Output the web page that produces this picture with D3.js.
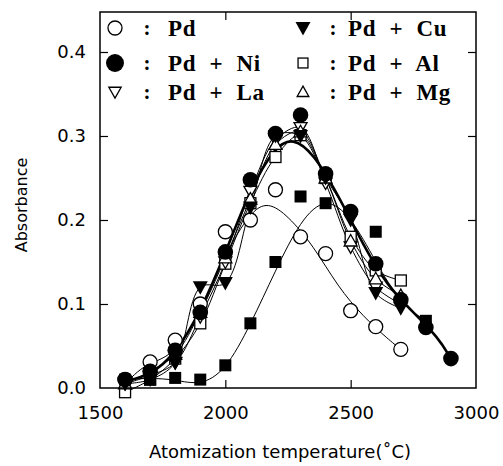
<!DOCTYPE html>
<html><head><meta charset="utf-8">
<script src="https://cdn.jsdelivr.net/npm/d3@7"></script>
<style>html,body{margin:0;padding:0;background:#fff;}</style>
</head><body>
<svg id="c" width="503" height="466"></svg>
<script>
// ---- data ----
const xTicks = [1500,2000,2500,3000];
const yTicks = [0.0,0.1,0.2,0.3,0.4];

const pdT   = [1600,1700,1800,1900,2000,2100,2200,2300,2400,2500,2600,2700];
const pdV   = [0.010,0.031,0.057,0.100,0.186,0.200,0.236,0.180,0.160,0.092,0.073,0.046];
const pdFitT = [1600,1650,1700,1800,1900,2000,2100,2170,2250,2350,2450,2550,2650,2700];
const pdFitV = [0.005,0.020,0.030,0.040,0.090,0.160,0.210,0.222,0.205,0.170,0.120,0.085,0.058,0.046];

const niT = [1600,1700,1800,1900,2000,2100,2200,2300,2400,2500,2600,2700,2800,2900];
const niV = [0.010,0.020,0.045,0.090,0.162,0.248,0.303,0.325,0.255,0.210,0.148,0.105,0.072,0.035];
const niFitT = [1600,1700,1800,1900,2000,2100,2200,2270,2350,2450,2550,2650,2750,2850,2900];
const niFitV = [0.008,0.015,0.040,0.090,0.160,0.238,0.288,0.298,0.280,0.230,0.170,0.120,0.090,0.060,0.035];

const laT = [1600,1700,1800,1900,2000,2100,2200,2300,2400,2500,2600,2700];
const laV = [0.005,0.015,0.030,0.085,0.150,0.234,0.295,0.310,0.244,0.168,0.120,0.100];

const cuT = [1600,1700,1800,1900,2000,2100,2200,2300,2400,2500,2600,2700];
const cuV = [0.005,0.010,0.030,0.120,0.125,0.215,0.300,0.300,0.250,0.200,0.113,0.095];

const alT = [1600,1700,1800,1900,2000,2100,2200,2300,2400,2500,2600,2700];
const alV = [-0.005,0.010,0.035,0.077,0.148,0.220,0.275,0.301,0.250,0.180,0.140,0.128];

const mgT = [1600,1700,1800,1900,2000,2100,2200,2300,2400,2500,2600,2700];
const mgV = [0.005,0.020,0.040,0.090,0.155,0.225,0.290,0.305,0.250,0.175,0.130,0.110];

const sqT = [1600,1700,1800,1900,2000,2100,2200,2300,2400,2600,2800];
const sqV = [0.010,0.010,0.012,0.010,0.027,0.077,0.150,0.228,0.220,0.186,0.080];
const sqFitT = [1600,1700,1800,1900,2000,2100,2200,2300,2400,2500,2600,2700,2800];
const sqFitV = [0.010,0.012,0.010,0.003,0.020,0.075,0.140,0.200,0.228,0.205,0.150,0.100,0.080];

const legendLabels = ["Pd","Pd + Ni","Pd + La","Pd + Cu","Pd + Al","Pd + Mg"];

// ---- drawing ----
const svg = d3.select("#c");
const x = d3.scaleLinear().domain([1500,3000]).range([100,476]);
const y = d3.scaleLinear().domain([0,0.4]).range([388,52]);
const yTop = 12;

const zip = (t,v)=>t.map((d,i)=>[d,v[i]]);
const line = d3.line().x(d=>x(d[0])).y(d=>y(d[1]));

function drawLine(data, w, curve){
  svg.append("path").datum(data)
    .attr("fill","none").attr("stroke","#000").attr("stroke-width",w)
    .attr("d", line.curve(curve)(data));
}
const cr = d3.curveCatmullRom.alpha(0.5);
drawLine(zip(pdFitT,pdFitV),1,d3.curveBasis);
drawLine(zip(sqFitT,sqFitV),1,d3.curveBasis);
drawLine(zip(laT,laV),1,cr);
drawLine(zip(cuT,cuV),1,cr);
drawLine(zip(alT,alV),1,cr);
drawLine(zip(mgT,mgV),1,cr);
drawLine(zip(niFitT,niFitV),2.6,d3.curveBasis);

// symbols
const sym = {
  openCircle: (g,cx,cy,s=1)=>g.append("circle").attr("cx",cx).attr("cy",cy).attr("r",7*s).attr("fill","#fff").attr("stroke","#000").attr("stroke-width",1.3),
  fillCircle: (g,cx,cy,s=1)=>g.append("circle").attr("cx",cx).attr("cy",cy).attr("r",7.8*s).attr("fill","#000"),
  openSquare: (g,cx,cy,s=1)=>g.append("rect").attr("x",cx-5.5*s).attr("y",cy-5.5*s).attr("width",11*s).attr("height",11*s).attr("fill","#fff").attr("stroke","#000").attr("stroke-width",1.3),
  fillSquare: (g,cx,cy,s=1)=>g.append("rect").attr("x",cx-6*s).attr("y",cy-6*s).attr("width",12*s).attr("height",12*s).attr("fill","#000"),
  openDown: (g,cx,cy,s=1)=>g.append("path").attr("d",`M${cx-6.5*s},${cy-5*s}L${cx+6.5*s},${cy-5*s}L${cx},${cy+6.5*s}Z`).attr("fill","#fff").attr("stroke","#000").attr("stroke-width",1.3),
  fillDown: (g,cx,cy,s=1)=>g.append("path").attr("d",`M${cx-7.5*s},${cy-6*s}L${cx+7.5*s},${cy-6*s}L${cx},${cy+7.5*s}Z`).attr("fill","#000"),
  openUp: (g,cx,cy,s=1)=>g.append("path").attr("d",`M${cx-6.5*s},${cy+5*s}L${cx+6.5*s},${cy+5*s}L${cx},${cy-6.5*s}Z`).attr("fill","#fff").attr("stroke","#000").attr("stroke-width",1.3)
};
function drawPts(t,v,s){
  const g = svg.append("g");
  t.forEach((d,i)=>s(g,x(d),y(v[i])));
}
drawPts(pdT,pdV,sym.openCircle);
drawPts(alT,alV,sym.openSquare);
drawPts(laT,laV,sym.openDown);
drawPts(mgT,mgV,sym.openUp);
drawPts(sqT,sqV,sym.fillSquare);
drawPts(cuT,cuV,sym.fillDown);
drawPts(niT,niV,sym.fillCircle);

// frame
svg.append("rect").attr("x",x(1500)).attr("y",yTop).attr("width",x(3000)-x(1500)).attr("height",y(0)-yTop)
  .attr("fill","none").attr("stroke","#000").attr("stroke-width",1.5);

// axes with inward ticks
const axL = d3.axisLeft(y).tickValues(yTicks).tickSize(-8).tickPadding(14).tickFormat(d3.format(".1f"));
const axR = d3.axisRight(y).tickValues(yTicks.slice(1)).tickSize(-8).tickFormat("");
const axB = d3.axisBottom(x).tickValues(xTicks).tickSize(-8).tickPadding(18).tickFormat(d3.format("d"));
const axT = d3.axisTop(x).tickValues([2000,2500]).tickSize(-8).tickFormat("");
function styleAx(g){ g.select(".domain").remove(); g.selectAll("line").attr("stroke","#000").attr("stroke-width",1.2);
  g.selectAll("text").attr("fill","#000").style("font-family","'DejaVu Sans',sans-serif").style("font-size","18px"); }
svg.append("g").attr("transform",`translate(${x(1500)},0)`).call(axL).call(styleAx);
svg.append("g").attr("transform",`translate(${x(3000)},0)`).call(axR).call(styleAx);
svg.append("g").attr("transform",`translate(0,${y(0)})`).call(axB).call(styleAx);
svg.append("g").attr("transform",`translate(0,${yTop})`).call(axT).call(styleAx);
svg.selectAll("g.tick").filter(d=>d===0||d===1500||d===3000).select("line").remove();

// axis titles
svg.append("text").attr("x",280).attr("y",458).attr("text-anchor","middle")
  .style("font-family","'DejaVu Sans',sans-serif").style("font-size","18px").text("Atomization temperature(˚C)");
svg.append("text").attr("transform","translate(27,205) rotate(-90)").attr("text-anchor","middle")
  .style("font-family","'DejaVu Sans',sans-serif").style("font-size","16px").text("Absorbance");

// legend
const legSyms = [sym.openCircle, sym.fillCircle, sym.openDown, sym.fillDown, sym.openSquare, sym.openUp];
const legScale = [1, 1.15, 0.95, 1, 0.9, 0.9];
const legRowY = [28,63,92];
const legSymX = [115,303], legColonX = [147,333], legTextX = [168,348];
const lg = svg.append("g");
legendLabels.forEach((lab,i)=>{
  const col = Math.floor(i/3), row = i%3;
  const cy = legRowY[row];
  legSyms[i](lg,legSymX[col],cy,legScale[i]);
  lg.append("text").attr("x",legColonX[col]).attr("y",cy+7).attr("text-anchor","middle")
    .style("font-family","'Liberation Serif',serif").style("font-weight","bold").style("font-size","21px").text(":");
  lg.append("text").attr("x",legTextX[col]).attr("y",cy+8)
    .style("font-family","'Liberation Serif',serif").style("font-weight","bold").style("font-size","23px")
    .style("word-spacing","7px").style("letter-spacing","0.6px").text(lab);
});
</script>
</body></html>
